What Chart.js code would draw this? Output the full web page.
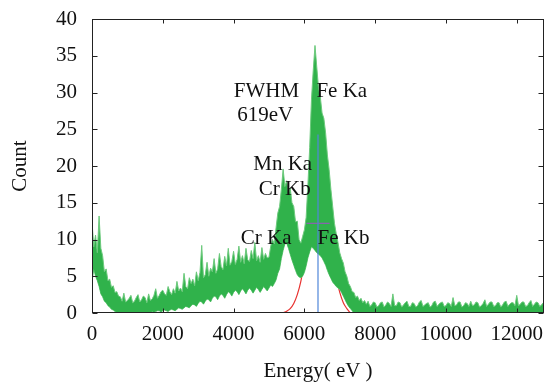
<!DOCTYPE html>
<html>
<head>
<meta charset="utf-8">
<script src="https://cdn.jsdelivr.net/npm/chart.js@4.4.1/dist/chart.umd.min.js"></script>
<style>
  html, body { margin: 0; padding: 0; background: #fff; }
  #wrap { width: 546px; height: 389px; }
</style>
</head>
<body>
<div id="wrap"><canvas id="chart" width="546" height="389"></canvas></div>
<script>
// spectrum, every 50 eV (upper and lower edge of the noisy band)
var energy = [0, 50, 100, 150, 200, 250, 300, 350, 400, 450, 500, 550, 600, 650, 700, 750, 800, 850, 900, 950,
    1000, 1050, 1100, 1150, 1200, 1250, 1300, 1350, 1400, 1450, 1500, 1550, 1600, 1650, 1700, 1750, 1800, 1850, 1900, 1950,
    2000, 2050, 2100, 2150, 2200, 2250, 2300, 2350, 2400, 2450, 2500, 2550, 2600, 2650, 2700, 2750, 2800, 2850, 2900, 2950,
    3000, 3050, 3100, 3150, 3200, 3250, 3300, 3350, 3400, 3450, 3500, 3550, 3600, 3650, 3700, 3750, 3800, 3850, 3900, 3950,
    4000, 4050, 4100, 4150, 4200, 4250, 4300, 4350, 4400, 4450, 4500, 4550, 4600, 4650, 4700, 4750, 4800, 4850, 4900, 4950,
    5000, 5050, 5100, 5150, 5200, 5250, 5300, 5350, 5400, 5450, 5500, 5550, 5600, 5650, 5700, 5750, 5800, 5850, 5900, 5950,
    6000, 6050, 6100, 6150, 6200, 6250, 6300, 6350, 6400, 6450, 6500, 6550, 6600, 6650, 6700, 6750, 6800, 6850, 6900, 6950,
    7000, 7050, 7100, 7150, 7200, 7250, 7300, 7350, 7400, 7450, 7500, 7550, 7600, 7650, 7700, 7750, 7800, 7850, 7900, 7950,
    8000, 8050, 8100, 8150, 8200, 8250, 8300, 8350, 8400, 8450, 8500, 8550, 8600, 8650, 8700, 8750, 8800, 8850, 8900, 8950,
    9000, 9050, 9100, 9150, 9200, 9250, 9300, 9350, 9400, 9450, 9500, 9550, 9600, 9650, 9700, 9750, 9800, 9850, 9900, 9950,
    10000, 10050, 10100, 10150, 10200, 10250, 10300, 10350, 10400, 10450, 10500, 10550, 10600, 10650, 10700, 10750, 10800, 10850, 10900, 10950,
    11000, 11050, 11100, 11150, 11200, 11250, 11300, 11350, 11400, 11450, 11500, 11550, 11600, 11650, 11700, 11750, 11800, 11850, 11900, 11950,
    12000, 12050, 12100, 12150, 12200, 12250, 12300, 12350, 12400, 12450, 12500, 12550, 12600, 12650, 12700, 12750, 12800];

var countUpper = [12.4, 9.0, 10.6, 8.2, 13.2, 8.8, 7.8, 5.6, 6.0, 4.4, 4.6, 3.5, 3.7, 2.8, 2.9, 2.3, 2.2, 1.6, 2.7, 1.5,
    1.7, 2.0, 2.4, 1.4, 1.6, 2.1, 2.5, 1.5, 1.8, 2.3, 2.1, 1.4, 2.6, 1.7, 1.9, 2.4, 3.3, 2.0, 2.4, 2.9,
    3.1, 2.6, 2.4, 3.6, 2.9, 2.5, 3.3, 2.7, 4.3, 3.0, 3.4, 2.9, 5.4, 3.6, 3.3, 4.8, 4.0, 4.6, 3.7, 5.6,
    4.4, 5.5, 9.2, 4.8, 5.2, 6.9, 5.0, 6.1, 5.6, 7.4, 5.4, 6.0, 8.1, 6.3, 5.9, 7.7, 6.4, 8.8, 6.5, 7.0,
    8.4, 6.6, 7.3, 9.1, 6.9, 7.8, 6.7, 8.8, 7.2, 7.0, 8.5, 7.4, 9.6, 7.1, 7.8, 6.9, 8.9, 7.3, 8.1, 7.5,
    7.6, 9.1, 10.0, 9.4, 11.6, 13.6, 14.5, 16.8, 19.6, 17.2, 18.0, 16.2, 17.0, 15.0, 14.5, 12.4, 12.5, 10.0, 9.5, 10.4,
    11.3, 13.0, 17.5, 22.5, 29.0, 33.0, 36.4, 33.5, 30.6, 29.4, 27.2, 26.5, 24.5, 21.5, 19.5, 16.8, 14.5, 12.2, 10.8, 9.6,
    8.2, 7.4, 6.8, 5.6, 5.0, 4.0, 3.6, 2.9, 2.8, 2.1, 2.3, 1.7, 2.0, 1.4, 1.7, 1.2, 1.6, 0.9, 1.1, 1.5,
    1.4, 0.8, 1.0, 1.4, 1.5, 0.8, 1.1, 1.5, 1.3, 0.9, 2.6, 1.0, 1.0, 1.5, 1.4, 0.8, 1.1, 1.4, 1.6, 0.9,
    0.9, 1.4, 1.3, 0.8, 1.0, 1.5, 1.7, 0.9, 1.1, 1.3, 1.4, 0.8, 1.0, 1.5, 1.6, 0.9, 1.2, 1.4, 1.5, 0.9,
    1.0, 1.4, 1.3, 0.9, 2.1, 1.0, 1.1, 1.5, 1.5, 0.8, 1.0, 1.4, 1.3, 0.9, 1.6, 1.0, 1.1, 1.5, 1.4, 0.8,
    1.0, 1.3, 1.8, 0.9, 1.2, 1.5, 1.5, 0.9, 1.0, 1.4, 1.4, 0.8, 1.1, 1.5, 1.6, 0.9, 1.2, 1.4, 1.4, 1.0,
    2.4, 1.0, 1.2, 1.5, 1.5, 0.9, 1.0, 1.4, 1.7, 0.9, 1.2, 1.5, 1.4, 0.9, 1.1, 1.4, 1.3];

var countLower = [4.2, 6.0, 5.0, 4.4, 3.6, 2.6, 2.2, 1.6, 1.4, 1.0, 0.8, 0.5, 0.4, 0.2, 0.1, 0, 0, 0, 0, 0,
    0, 0, 0, 0, 0, 0, 0, 0, 0, 0, 0, 0, 0.1, 0, 0.2, 0.1, 0.2, 0.3, 0.3, 0.1,
    0.3, 0.4, 0.3, 0.2, 0.4, 0.5, 0.4, 0.3, 0.5, 0.7, 0.6, 0.5, 0.7, 0.9, 0.8, 0.7, 1.0, 1.2, 1.1, 0.9,
    1.3, 1.6, 1.5, 1.2, 1.6, 1.9, 1.8, 1.5, 2.0, 2.3, 2.2, 1.8, 2.3, 2.6, 2.4, 2.0, 2.5, 2.9, 2.7, 2.3,
    2.8, 3.1, 2.9, 2.5, 3.0, 3.3, 3.0, 2.6, 3.1, 3.4, 3.1, 2.7, 3.1, 3.5, 3.2, 2.8, 3.2, 3.6, 3.3, 3.0,
    3.4, 3.8, 3.6, 4.0, 4.5, 5.4, 6.0, 7.4, 8.5, 9.4, 9.5, 8.8, 8.0, 7.2, 6.5, 5.8, 5.2, 4.9, 4.8, 5.0,
    5.5, 6.4, 7.5, 8.3, 9.0, 8.8, 8.5, 8.2, 8.0, 7.8, 7.5, 7.0, 6.5, 5.8, 5.2, 4.7, 4.2, 3.9, 3.6, 3.4,
    3.2, 2.8, 2.3, 1.8, 1.3, 0.9, 0.6, 0.3, 0, 0, 0, 0, 0, 0, 0, 0, 0, 0, 0, 0,
    0, 0, 0, 0, 0, 0, 0, 0, 0, 0, 0, 0, 0, 0, 0, 0, 0, 0, 0, 0,
    0, 0, 0, 0, 0, 0, 0, 0, 0, 0, 0, 0, 0, 0, 0, 0, 0, 0, 0, 0,
    0, 0, 0, 0, 0, 0, 0, 0, 0, 0, 0, 0, 0, 0, 0, 0, 0, 0, 0, 0,
    0, 0, 0, 0, 0, 0, 0, 0, 0, 0, 0, 0, 0, 0, 0, 0, 0, 0, 0, 0,
    0, 0, 0, 0, 0, 0, 0, 0, 0, 0, 0, 0, 0, 0, 0, 0, 0];

// red fit curve of Fe Ka (mostly hidden behind the spectrum)
var fitEnergy = [5400, 5500, 5600, 5700, 5800, 5900, 6000, 6100, 6200, 6300, 6385,
    6500, 6600, 6700, 6800, 6900, 7000, 7100, 7200, 7300];
var fitCount = [0, 0.25, 0.6, 1.3, 2.5, 4.3, 7.0, 11.0, 16.0, 21.5, 24.3,
    21.0, 16.0, 11.0, 7.5, 4.8, 2.8, 1.4, 0.6, 0];

// peak marker and half-maximum width
var peakEnergy = [6385, 6385];
var peakCount = [0, 24.3];
var fwhmEnergy = [6057, 6715];
var fwhmCount = [12.2, 12.2];

var xTickLabels = [0, 2000, 4000, 6000, 8000, 10000, 12000];
var yTickLabels = [0, 5, 10, 15, 20, 25, 30, 35, 40];

var peakLabels = ['FWHM', '619eV', 'Fe Ka', 'Mn Ka', 'Cr Kb', 'Cr Ka', 'Fe Kb'];

var serif = "'Liberation Serif', 'Times New Roman', serif";
var textColor = '#111';

function toPoints(xs, ys) {
    return xs.map(function (x, i) { return {x: x, y: ys[i]}; });
}

// where each label sits, in data units (x eV, y count), and its alignment
var labelPlaces = [
    {x: 4927, y: 30.1, align: 'center'},
    {x: 4893, y: 26.9, align: 'center'},
    {x: 6340, y: 30.1, align: 'left'},
    {x: 5387, y: 20.15, align: 'center'},
    {x: 5444, y: 16.75, align: 'center'},
    {x: 4921, y: 10.2, align: 'center'},
    {x: 6370, y: 10.2, align: 'left'}
];

var labelPlugin = {
    id: 'peakLabels',
    afterDatasetsDraw: function (chart) {
        var ctx = chart.ctx;
        var x = chart.scales.x, y = chart.scales.y;
        ctx.save();
        ctx.font = '21px ' + serif;
        ctx.fillStyle = textColor;
        ctx.textBaseline = 'middle';
        peakLabels.forEach(function (text, i) {
            var p = labelPlaces[i];
            ctx.textAlign = p.align;
            ctx.fillText(text, x.getPixelForValue(p.x), y.getPixelForValue(p.y));
        });
        ctx.restore();
    }
};

// box round the plot with inward ticks on all four sides
var framePlugin = {
    id: 'frame',
    afterDraw: function (chart) {
        var ctx = chart.ctx, a = chart.chartArea;
        var x = chart.scales.x, y = chart.scales.y;
        var l = Math.round(a.left) + 0.5, r = Math.round(a.right) - 0.5;
        var t = Math.round(a.top) + 0.5, b = Math.round(a.bottom) - 0.5;
        ctx.save();
        ctx.strokeStyle = '#222';
        ctx.lineWidth = 1;
        ctx.strokeRect(l, t, r - l, b - t);
        ctx.beginPath();
        xTickLabels.forEach(function (v) {
            var px = Math.round(x.getPixelForValue(v)) + 0.5;
            ctx.moveTo(px, b); ctx.lineTo(px, b - 4);
            ctx.moveTo(px, t); ctx.lineTo(px, t + 4);
        });
        yTickLabels.forEach(function (v) {
            var py = Math.round(y.getPixelForValue(v)) + 0.5;
            ctx.moveTo(l, py); ctx.lineTo(l + 5, py);
            ctx.moveTo(r, py); ctx.lineTo(r - 5, py);
        });
        ctx.stroke();
        ctx.restore();
    }
};

var tickFont = {family: serif, size: 21};

var ctx = document.getElementById('chart').getContext('2d');
var chart = new Chart(ctx, {
    type: 'line',
    data: {
        datasets: [
            {
                data: toPoints(peakEnergy, peakCount),
                borderColor: '#4f86d9', borderWidth: 1.2, pointRadius: 0, fill: false
            },
            {
                data: toPoints(fwhmEnergy, fwhmCount),
                borderColor: '#8d5fb3', borderWidth: 1.2, pointRadius: 0, fill: false
            },
            {
                data: toPoints(energy, countUpper),
                borderColor: '#6cc97c', borderWidth: 1, pointRadius: 0,
                backgroundColor: '#30b24b', fill: '+1'
            },
            {
                data: toPoints(energy, countLower),
                borderColor: '#6cc97c', borderWidth: 1, pointRadius: 0, fill: false
            },
            {
                data: toPoints(fitEnergy, fitCount),
                borderColor: '#e8312f', borderWidth: 1.2, pointRadius: 0, fill: false,
                cubicInterpolationMode: 'monotone'
            }
        ]
    },
    options: {
        responsive: false,
        animation: false,
        events: [],
        layout: {padding: {top: 19, right: 2, left: 0, bottom: 0}},
        plugins: {legend: {display: false}, tooltip: {enabled: false}},
        scales: {
            x: {
                type: 'linear', min: 0, max: 12770,
                afterFit: function (s) { s.height = 76; },
                afterBuildTicks: function (s) { s.ticks = xTickLabels.map(function (v) { return {value: v}; }); },
                grid: {display: false, drawTicks: true, tickLength: 9},
                border: {display: false},
                ticks: {font: tickFont, color: textColor, padding: 0, maxRotation: 0, autoSkip: false,
                    callback: function (v) { return String(v); }},
                title: {display: true, text: 'Energy( eV )', font: tickFont, color: textColor,
                    padding: {top: 0, bottom: 4.7}}
            },
            y: {
                min: 0, max: 40,
                afterFit: function (s) { s.width = 92; },
                afterBuildTicks: function (s) { s.ticks = yTickLabels.map(function (v) { return {value: v}; }); },
                grid: {display: false, drawTicks: true, tickLength: 15},
                border: {display: false},
                ticks: {font: tickFont, color: textColor, padding: 0,
                    callback: function (v) { return String(v); }},
                title: {display: true, text: 'Count', font: tickFont, color: textColor,
                    padding: {top: 7.4, bottom: 0}}
            }
        }
    },
    plugins: [labelPlugin, framePlugin]
});
</script>
</body>
</html>
